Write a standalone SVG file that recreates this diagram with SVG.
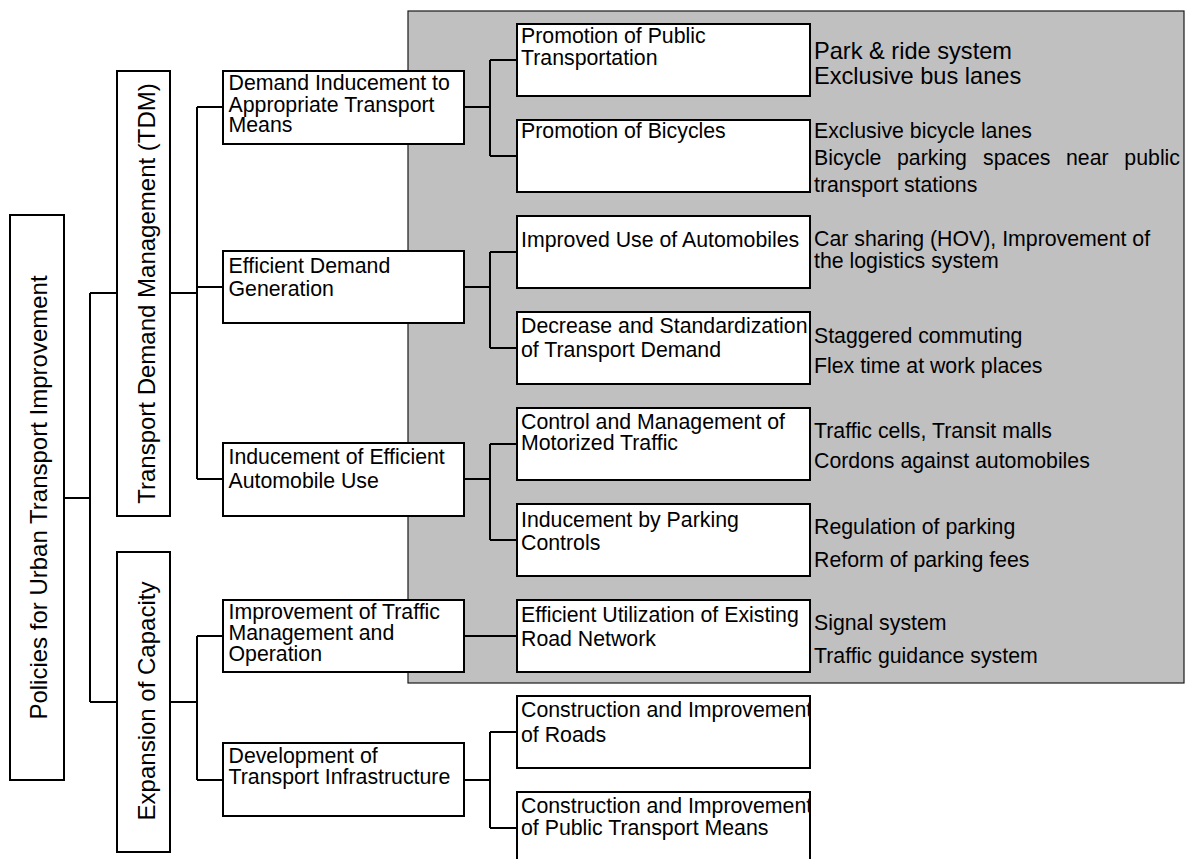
<svg xmlns="http://www.w3.org/2000/svg" width="1187" height="859" viewBox="0 0 1187 859">
  <style>
    .box { fill: #ffffff; stroke: #000000; stroke-width: 2; }
    .panel { fill: #c0c0c0; stroke: #1a1a1a; stroke-width: 1.2; }
    .link { fill: none; stroke: #000000; stroke-width: 2; }
    text { font-family: "Liberation Sans", Arial, sans-serif; fill: #000000; }
    .t { font-size: 21.3px; }
    .big { font-size: 23.6px; }
    .vert { font-size: 24px; text-anchor: middle; }
  </style>
  <defs>
    <clipPath id="clip-roads"><rect x="517" y="696" width="293" height="72"/></clipPath>
    <clipPath id="clip-public"><rect x="517" y="792" width="293" height="80"/></clipPath>
  </defs>

  <rect width="1187" height="859" fill="#ffffff"/>

  <!-- shaded panel behind the TDM measures and traffic management -->
  <rect id="panel" class="panel" x="408" y="11" width="776" height="672"/>

  <!-- tree connectors -->
  <g id="connectors" class="link">
    <path d="M64 498 H90 M90 293 V702 M90 293 H117 M90 702 H117"/>
    <path d="M170 293 H197 M197 107 V479 M197 107 H223 M197 287 H223 M197 479 H223"/>
    <path d="M170 702 H197 M197 636 V780 M197 636 H223 M197 780 H223"/>
    <path d="M464 107 H490 M490 60 V156 M490 60 H517 M490 156 H517"/>
    <path d="M464 287 H490 M490 252 V348 M490 252 H517 M490 348 H517"/>
    <path d="M464 479 H490 M490 444 V540 M490 444 H517 M490 540 H517"/>
    <path d="M464 636 H517"/>
    <path d="M464 780 H490 M490 732 V828 M490 732 H517 M490 828 H517"/>
  </g>

  <!-- root -->
  <g id="root">
    <rect class="box" x="10" y="215" width="54" height="565"/>
    <text class="vert" transform="translate(46.5 497.5) rotate(-90)">Policies for Urban Transport Improvement</text>
  </g>

  <!-- first level -->
  <g id="tdm">
    <rect class="box" x="117" y="71" width="53" height="445"/>
    <text class="vert" transform="translate(155 293.5) rotate(-90)">Transport Demand Management (TDM)</text>
  </g>
  <g id="capacity">
    <rect class="box" x="117" y="552" width="53" height="300"/>
    <text class="vert" transform="translate(155 701) rotate(-90)">Expansion of Capacity</text>
  </g>

  <!-- second level -->
  <g id="demand-inducement">
    <rect class="box" x="223" y="71" width="241" height="73"/>
    <text class="t" x="228.5" y="89.5">Demand Inducement to</text>
    <text class="t" x="228.5" y="111.5">Appropriate Transport</text>
    <text class="t" x="228.5" y="131.5">Means</text>
  </g>
  <g id="efficient-demand">
    <rect class="box" x="223" y="251" width="241" height="72"/>
    <text class="t" x="228.5" y="273">Efficient Demand</text>
    <text class="t" x="228.5" y="296">Generation</text>
  </g>
  <g id="efficient-automobile">
    <rect class="box" x="223" y="443" width="241" height="73"/>
    <text class="t" x="228.5" y="464">Inducement of Efficient</text>
    <text class="t" x="228.5" y="488">Automobile Use</text>
  </g>
  <g id="traffic-management">
    <rect class="box" x="223" y="600" width="241" height="72"/>
    <text class="t" x="228.5" y="619">Improvement of Traffic</text>
    <text class="t" x="228.5" y="640">Management and</text>
    <text class="t" x="228.5" y="661">Operation</text>
  </g>
  <g id="infrastructure">
    <rect class="box" x="223" y="743" width="241" height="73"/>
    <text class="t" x="228.5" y="763">Development of</text>
    <text class="t" x="228.5" y="784">Transport Infrastructure</text>
  </g>

  <!-- third level -->
  <g id="public-transport">
    <rect class="box" x="517" y="24" width="293" height="72"/>
    <text class="t" x="521" y="43">Promotion of Public</text>
    <text class="t" x="521" y="65">Transportation</text>
  </g>
  <g id="bicycles">
    <rect class="box" x="517" y="120" width="293" height="72"/>
    <text class="t" x="521" y="138">Promotion of Bicycles</text>
  </g>
  <g id="automobiles">
    <rect class="box" x="517" y="216" width="293" height="72"/>
    <text class="t" x="521" y="246.5">Improved Use of Automobiles</text>
  </g>
  <g id="standardization">
    <rect class="box" x="517" y="312" width="293" height="72"/>
    <text class="t" x="521" y="333">Decrease and Standardization</text>
    <text class="t" x="521" y="357">of Transport Demand</text>
  </g>
  <g id="motorized-traffic">
    <rect class="box" x="517" y="408" width="293" height="72"/>
    <text class="t" x="521" y="428.5">Control and Management of</text>
    <text class="t" x="521" y="450">Motorized Traffic</text>
  </g>
  <g id="parking-controls">
    <rect class="box" x="517" y="504" width="293" height="72"/>
    <text class="t" x="521" y="527">Inducement by Parking</text>
    <text class="t" x="521" y="550">Controls</text>
  </g>
  <g id="road-network">
    <rect class="box" x="517" y="600" width="293" height="72"/>
    <text class="t" x="521" y="622">Efficient Utilization of Existing</text>
    <text class="t" x="521" y="646">Road Network</text>
  </g>
  <g id="roads">
    <rect class="box" x="517" y="696" width="293" height="72"/>
    <g clip-path="url(#clip-roads)">
      <text class="t" x="521" y="717">Construction and Improvement</text>
      <text class="t" x="521" y="742">of Roads</text>
    </g>
    <rect x="517" y="696" width="293" height="72" fill="none" stroke="#000" stroke-width="2"/>
  </g>
  <g id="public-means">
    <rect class="box" x="517" y="792" width="293" height="80"/>
    <g clip-path="url(#clip-public)">
      <text class="t" x="521" y="813">Construction and Improvement</text>
      <text class="t" x="521" y="835">of Public Transport Means</text>
    </g>
    <rect x="517" y="792" width="293" height="80" fill="none" stroke="#000" stroke-width="2"/>
  </g>

  <!-- measures listed beside each policy -->
  <g id="measures">
    <text class="big" x="814" y="59">Park &amp; ride system</text>
    <text class="big" x="814" y="84">Exclusive bus lanes</text>
    <text class="t" x="814" y="138">Exclusive bicycle lanes</text>
    <text class="t" y="165"><tspan x="814">Bicycle</tspan><tspan x="897">parking</tspan><tspan x="983">spaces</tspan><tspan x="1066">near</tspan></text>
    <text class="t" x="1180" y="165" text-anchor="end">public</text>
    <text class="t" x="814" y="191.5">transport stations</text>
    <text class="t" x="814" y="246">Car sharing (HOV), Improvement of</text>
    <text class="t" x="814" y="268">the logistics system</text>
    <text class="t" x="814" y="343">Staggered commuting</text>
    <text class="t" x="814" y="373">Flex time at work places</text>
    <text class="t" x="814" y="438">Traffic cells, Transit malls</text>
    <text class="t" x="814" y="468">Cordons against automobiles</text>
    <text class="t" x="814" y="534">Regulation of parking</text>
    <text class="t" x="814" y="567">Reform of parking fees</text>
    <text class="t" x="814" y="630">Signal system</text>
    <text class="t" x="814" y="663">Traffic guidance system</text>
  </g>
</svg>
